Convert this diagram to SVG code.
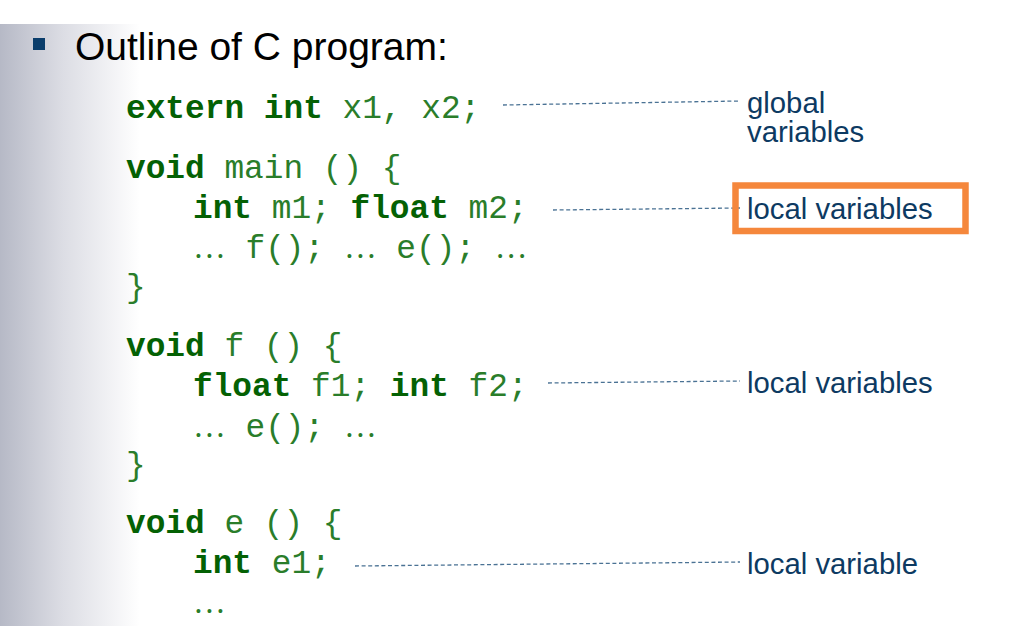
<svg xmlns="http://www.w3.org/2000/svg" width="1021" height="626" viewBox="0 0 1021 626">
<defs>
<linearGradient id="band" x1="0" y1="0" x2="1" y2="0">
<stop offset="0" stop-color="#b6b9c6"/>
<stop offset="0.45" stop-color="#dcdde4"/>
<stop offset="1" stop-color="#ffffff"/>
</linearGradient>
<style>
.code{font-family:"Liberation Mono","Courier New",monospace;font-size:32.8px;fill:#2a7d2a;white-space:pre}
.k{font-weight:bold;fill:#046104}
.el{font-family:"Liberation Serif","Times New Roman",serif}
.lab{font-family:"Liberation Sans",Arial,sans-serif;font-size:29.3px;fill:#0d3a62}
.dash{stroke:#4a7294;stroke-width:1.3;stroke-dasharray:4 2.6;fill:none}
</style>
</defs>
<rect x="0" y="0" width="1021" height="626" fill="#ffffff"/>
<rect x="0" y="24" width="140" height="602" fill="url(#band)"/>
<g id="title">
<rect x="33" y="38" width="12" height="12" fill="#0a3d6b"/>
<text x="75" y="60" font-family="'Liberation Sans',Arial,sans-serif" font-size="39" fill="#000000">Outline of C program:</text>
</g>
<g id="code">
<text class="code" x="126" y="118" xml:space="preserve"><tspan class="k">extern int</tspan> x1, x2;</text>
<text class="code" x="126" y="178" xml:space="preserve"><tspan class="k">void</tspan> main () {</text>
<text class="code" x="193" y="218" xml:space="preserve"><tspan class="k">int</tspan> m1; <tspan class="k">float</tspan> m2;</text>
<text class="code" x="193" y="258" xml:space="preserve"><tspan class="el">…</tspan> f(); <tspan class="el">…</tspan> e(); <tspan class="el">…</tspan></text>
<text class="code" x="126" y="297" xml:space="preserve">}</text>
<text class="code" x="126" y="356" xml:space="preserve"><tspan class="k">void</tspan> f () {</text>
<text class="code" x="193" y="396" xml:space="preserve"><tspan class="k">float</tspan> f1; <tspan class="k">int</tspan> f2;</text>
<text class="code" x="193" y="437" xml:space="preserve"><tspan class="el">…</tspan> e(); <tspan class="el">…</tspan></text>
<text class="code" x="126" y="475" xml:space="preserve">}</text>
<text class="code" x="126" y="533" xml:space="preserve"><tspan class="k">void</tspan> e () {</text>
<text class="code" x="193" y="573" xml:space="preserve"><tspan class="k">int</tspan> e1;</text>
<text class="code" x="193" y="613" xml:space="preserve"><tspan class="el">…</tspan></text>
</g>
<g id="connectors">
<line class="dash" x1="503" y1="105" x2="740" y2="101"/>
<line class="dash" x1="553" y1="210" x2="740" y2="208"/>
<line class="dash" x1="548" y1="383" x2="740" y2="381"/>
<line class="dash" x1="355" y1="566" x2="740" y2="562"/>
</g>
<g id="label-global">
<text class="lab" x="747" y="113">global<tspan x="747" y="142">variables</tspan></text>
</g>
<g id="label-local-main">
<rect x="735.5" y="185.5" width="230" height="45.5" fill="none" stroke="#f5873c" stroke-width="6.5"/>
<text class="lab" x="747" y="219">local variables</text>
</g>
<g id="label-local-f">
<text class="lab" x="747" y="393">local variables</text>
</g>
<g id="label-local-e">
<text class="lab" x="747" y="574">local variable</text>
</g>
</svg>
